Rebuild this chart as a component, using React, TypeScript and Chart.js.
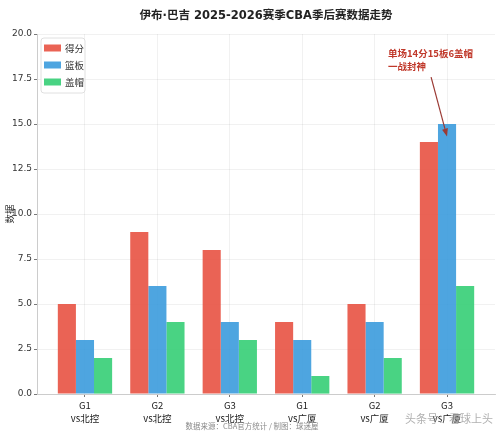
import React, { useEffect, useRef } from "react";
import { Chart, registerables } from "chart.js";

Chart.register(...registerables);

const games = ["G1", "G2", "G3", "G1", "G2", "G3"];
const opponents = ["vs北控", "vs北控", "vs北控", "vs广厦", "vs广厦", "vs广厦"];
const points = [5, 9, 8, 4, 5, 14];
const rebounds = [3, 6, 4, 3, 4, 15];
const blocks = [2, 4, 3, 1, 2, 6];
const seriesNames = ["得分", "篮板", "盖帽"];
const seriesColors = ["rgba(231,76,60,0.87)", "rgba(52,152,219,0.87)", "rgba(46,204,113,0.87)"];
const yTicks = [0, 2.5, 5, 7.5, 10, 12.5, 15, 17.5, 20];
const titleText = "伊布·巴吉 2025-2026赛季CBA季后赛数据走势";
const annotationLines = ["单场14分15板6盖帽", "一战封神"];
const sourceText = "数据来源：CBA官方统计 / 制图：球迷屋";
const watermarkText = "头条号：看球上头";

const FONT = "'DejaVu Sans', 'Noto Sans CJK SC', sans-serif";
const CJK = "'Noto Sans CJK SC', 'DejaVu Sans', sans-serif";

const overlayPlugin = {
  id: "overlay",
  afterDraw(chart: any) {
    const { ctx, chartArea, scales } = chart;
    const xs = scales.x;
    const ys = scales.y;
    ctx.save();

    // legend box
    const lx = chartArea.left + 4;
    const ly = chartArea.top + 4;
    const lw = 44;
    const lh = 55;
    ctx.beginPath();
    const r = 3;
    ctx.moveTo(lx + r, ly);
    ctx.lineTo(lx + lw - r, ly);
    ctx.quadraticCurveTo(lx + lw, ly, lx + lw, ly + r);
    ctx.lineTo(lx + lw, ly + lh - r);
    ctx.quadraticCurveTo(lx + lw, ly + lh, lx + lw - r, ly + lh);
    ctx.lineTo(lx + r, ly + lh);
    ctx.quadraticCurveTo(lx, ly + lh, lx, ly + lh - r);
    ctx.lineTo(lx, ly + r);
    ctx.quadraticCurveTo(lx, ly, lx + r, ly);
    ctx.closePath();
    ctx.fillStyle = "rgba(255,255,255,0.85)";
    ctx.fill();
    ctx.strokeStyle = "#d8d8d8";
    ctx.lineWidth = 0.8;
    ctx.stroke();
    ctx.font = `9.5px ${CJK}`;
    ctx.textBaseline = "middle";
    ctx.textAlign = "left";
    seriesNames.forEach((name, i) => {
      const cy = ly + 10 + i * 17;
      ctx.fillStyle = seriesColors[i];
      ctx.fillRect(lx + 3, cy - 3.5, 17, 7);
      ctx.fillStyle = "#333";
      ctx.fillText(name, lx + 24, cy);
    });

    // annotation
    ctx.fillStyle = "#c0392b";
    ctx.font = `bold 9.5px ${CJK}`;
    ctx.textAlign = "left";
    ctx.textBaseline = "middle";
    const tx = xs.getPixelForValue(4.185);
    ctx.fillText(annotationLines[0], tx, ys.getPixelForValue(18.95));
    ctx.fillText(annotationLines[1], tx, ys.getPixelForValue(18.2));

    const x0 = xs.getPixelForValue(4.78);
    const y0 = ys.getPixelForValue(17.6);
    const x1 = xs.getPixelForValue(5.0);
    const y1 = ys.getPixelForValue(14.3);
    const ang = Math.atan2(y1 - y0, x1 - x0);
    const hl = 8;
    const hw = 3;
    ctx.strokeStyle = "#9b3a34";
    ctx.fillStyle = "#9b3a34";
    ctx.lineWidth = 1.2;
    ctx.beginPath();
    ctx.moveTo(x0, y0);
    ctx.lineTo(x1 - Math.cos(ang) * hl, y1 - Math.sin(ang) * hl);
    ctx.stroke();
    ctx.beginPath();
    ctx.moveTo(x1, y1);
    ctx.lineTo(
      x1 - Math.cos(ang) * hl + Math.sin(ang) * hw,
      y1 - Math.sin(ang) * hl - Math.cos(ang) * hw
    );
    ctx.lineTo(
      x1 - Math.cos(ang) * hl - Math.sin(ang) * hw,
      y1 - Math.sin(ang) * hl + Math.cos(ang) * hw
    );
    ctx.closePath();
    ctx.fill();

    // source text
    ctx.fillStyle = "#8a8a8a";
    ctx.font = `7.5px ${CJK}`;
    ctx.textAlign = "center";
    ctx.textBaseline = "middle";
    ctx.fillText(sourceText, 252, 426);

    // watermark
    ctx.font = `11px ${CJK}`;
    ctx.textAlign = "right";
    ctx.fillStyle = "rgba(150,150,150,0.75)";
    ctx.fillText(watermarkText, 493, 419);

    ctx.restore();
  },
};

export default function App() {
  const canvasRef = useRef<HTMLCanvasElement | null>(null);

  useEffect(() => {
    document.body.style.margin = "0";
    const canvas = canvasRef.current;
    if (!canvas) return;
    const values = [points, rebounds, blocks];
    const chart = new Chart(canvas, {
      type: "bar",
      data: {
        datasets: seriesNames.map((name, si) => ({
          label: name,
          data: values[si].map((v, i) => ({ x: i, y: v })),
          backgroundColor: seriesColors[si],
          borderWidth: 0,
          categoryPercentage: 0.75,
          barPercentage: 1.0,
        })),
      },
      options: {
        responsive: false,
        animation: false,
        layout: { padding: { left: 0, right: 5, top: 0, bottom: 0 } },
        plugins: {
          legend: { display: false },
          tooltip: { enabled: false },
          title: {
            display: true,
            text: titleText,
            fullSize: false,
            color: "#222",
            font: { size: 11.5, weight: "bold", family: FONT, lineHeight: 1.2 },
            padding: { top: 9, bottom: 11.2 },
          },
        },
        scales: {
          x: {
            type: "linear",
            min: -0.6625,
            max: 5.6625,
            offset: false,
            z: 1,
            afterBuildTicks: (axis: any) => {
              axis.ticks = games.map((_, i) => ({ value: i }));
            },
            afterFit: (scale: any) => {
              scale.height = 46;
            },
            grid: {
              offset: false,
              color: "rgba(0,0,0,0.07)",
              lineWidth: 0.8,
              tickColor: "#555",
              tickLength: 3,
            },
            border: { color: "#cccccc", width: 1 },
            ticks: {
              autoSkip: false,
              maxRotation: 0,
              padding: 2,
              color: "#222",
              font: { size: 9.5, family: CJK, lineHeight: 1.35 },
              callback: (value: any) => {
                const i = Math.round(Number(value));
                return [games[i], opponents[i]];
              },
            },
          },
          y: {
            min: 0,
            max: 20,
            z: 1,
            afterBuildTicks: (axis: any) => {
              axis.ticks = yTicks.map((v) => ({ value: v }));
            },
            afterFit: (scale: any) => {
              scale.width = 37;
            },
            grid: {
              color: "rgba(0,0,0,0.07)",
              lineWidth: 0.8,
              tickColor: "#555",
              tickLength: 3,
            },
            border: { color: "#cccccc", width: 1 },
            title: {
              display: true,
              text: "数据",
              color: "#333",
              font: { size: 9.5, family: CJK },
              padding: { top: 4, bottom: 0 },
            },
            ticks: {
              padding: 2,
              color: "#333",
              font: { size: 9, family: FONT },
              callback: (value: any) => Number(value).toFixed(1),
            },
          },
        },
      },
      plugins: [overlayPlugin],
    } as any);
    return () => chart.destroy();
  }, []);

  return (
    <div style={{ width: 500, height: 440, background: "#fff" }}>
      <canvas ref={canvasRef} width={500} height={440} style={{ display: "block" }} />
    </div>
  );
}
